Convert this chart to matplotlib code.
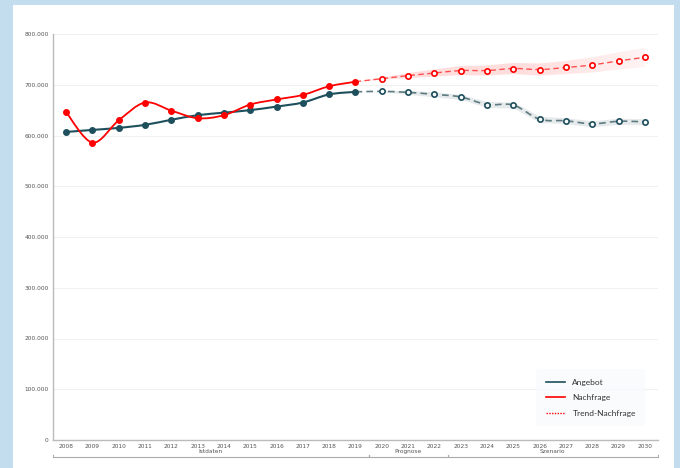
import matplotlib
matplotlib.use("Agg")
import matplotlib.pyplot as plt
import numpy as np
from matplotlib.path import Path
from matplotlib.patches import PathPatch
from matplotlib.lines import Line2D
from matplotlib.ticker import FuncFormatter

years = [str(y) for y in range(2008, 2031)]
angebot_ist = [607, 611, 615, 621, 631, 640, 645, 650, 657, 665, 681, 686]
nachfrage_ist = [646, 586, 630, 665, 649, 634, 640, 661, 671, 680, 697, 706]
# forecast from 2019 to 2030
angebot_prog = [686, 687, 685, 681, 676, 661, 660, 632, 629, 623, 628, 627]
nachfrage_trend = [706, 712, 718, 723, 728, 728, 732, 730, 734, 739, 747, 754]
angebot_band = [0, 1, 4, 5, 5, 6, 6, 6, 6, 6, 6, 6]
nachfrage_band = [0, 2, 5, 7, 9, 10, 11, 12, 13, 15, 17, 19]
groups = ["Istdaten", "Prognose", "Szenario"]
group_sizes = [12, 3, 8]

TEAL = "#1d4f5c"
RED = "#ff0000"
TEAL_D = "#4f6f76"

def smooth_path(xs, ys):
    xs = np.asarray(xs, float)
    ys = np.asarray(ys, float)
    pts = np.column_stack([xs, ys])
    n = len(pts)
    verts = [pts[0]]
    codes = [Path.MOVETO]
    for i in range(n - 1):
        p0 = pts[i - 1] if i > 0 else pts[i]
        p1 = pts[i]
        p2 = pts[i + 1]
        p3 = pts[i + 2] if i + 2 < n else pts[i + 1]
        c1 = p1 + (p2 - p0) / 6.0
        c2 = p2 - (p3 - p1) / 6.0
        verts += [c1, c2, p2]
        codes += [Path.CURVE4] * 3
    return Path(verts, codes)

fig = plt.figure(figsize=(6.8, 4.68), dpi=100, facecolor="#c3ddee")
bg = fig.add_axes([13 / 680, 0, (674 - 13) / 680, (468 - 5) / 468], zorder=-5)
bg.set_facecolor("white")
bg.set_xticks([])
bg.set_yticks([])
for s in bg.spines.values():
    s.set_visible(False)

ax = fig.add_axes([53 / 680, 28 / 468, 605 / 680, 406 / 468])
ax.set_facecolor("white")

x_ist = np.arange(len(angebot_ist))
x_prog = np.arange(11, 11 + len(angebot_prog))
k = 1000

a_hi = [(v + b) * k for v, b in zip(angebot_prog, angebot_band)]
a_lo = [(v - b) * k for v, b in zip(angebot_prog, angebot_band)]
n_hi = [(v + b) * k for v, b in zip(nachfrage_trend, nachfrage_band)]
n_lo = [(v - b) * k for v, b in zip(nachfrage_trend, nachfrage_band)]
ax.fill_between(x_prog, a_lo, a_hi, color="#8fa3a8", alpha=0.22, lw=0, zorder=2)

# red band, fading towards the right
band = ax.fill_between(x_prog, n_lo, n_hi, color="none", lw=0, zorder=2)
grad = np.zeros((2, 256, 4))
grad[..., 0] = 1.0
grad[..., 1] = 0.35
grad[..., 2] = 0.35
alpha = np.concatenate([np.full(150, 0.2), np.linspace(0.2, 0.07, 106)])
grad[..., 3] = alpha
img = ax.imshow(grad, extent=[x_prog[0], x_prog[-1], min(n_lo), max(n_hi)],
                aspect="auto", origin="lower", zorder=2, interpolation="bilinear")
img.set_clip_path(band.get_paths()[0], transform=ax.transData)

ax.add_patch(PathPatch(smooth_path(x_prog, [v * k for v in angebot_prog]), fill=False,
                       edgecolor=TEAL_D, lw=1.2, ls=(0, (4, 2.5)), alpha=0.9, zorder=3))
ax.add_patch(PathPatch(smooth_path(x_prog, [v * k for v in nachfrage_trend]), fill=False,
                       edgecolor="#ff4040", lw=1.0, ls=(0, (4, 2.5)), alpha=0.9, zorder=3))
ax.add_patch(PathPatch(smooth_path(x_ist, [v * k for v in angebot_ist]), fill=False,
                       edgecolor=TEAL, lw=1.5, zorder=4))
ax.add_patch(PathPatch(smooth_path(x_ist, [v * k for v in nachfrage_ist]), fill=False,
                       edgecolor=RED, lw=1.3, zorder=4))

ax.plot(x_ist, [v * k for v in angebot_ist], "o", color=TEAL, ms=4, zorder=5)
ax.plot(x_ist, [v * k for v in nachfrage_ist], "o", color=RED, ms=4, zorder=5)
ax.plot(x_prog[1:], [v * k for v in angebot_prog[1:]], "o", mfc="white", mec=TEAL,
        mew=1.2, ms=3.8, zorder=5)
ax.plot(x_prog[1:], [v * k for v in nachfrage_trend[1:]], "o", mfc="white", mec=RED,
        mew=1.2, ms=3.8, zorder=5)

ax.set_xlim(-0.5, len(years) - 0.5)
ax.set_ylim(0, 800000)
ax.set_yticks(np.arange(0, 800001, 100000))
ax.yaxis.set_major_formatter(FuncFormatter(lambda v, p: f"{v:,.0f}".replace(",", ".")))
ax.set_xticks(range(len(years)))
ax.set_xticklabels(years)
ax.tick_params(axis="both", labelsize=4.2, colors="#555555", length=0, pad=3)
ax.grid(axis="y", color="#f0f0f0", lw=0.8)
ax.set_axisbelow(True)
for s in ["top", "right"]:
    ax.spines[s].set_visible(False)
for s in ["left", "bottom"]:
    ax.spines[s].set_color("#bbbbbb")
    ax.spines[s].set_linewidth(1.0)

# group labels with brackets
trans = ax.get_xaxis_transform()
start = -0.5
for name, size in zip(groups, group_sizes):
    end = start + size
    ax.plot([start, start, end, end], [-0.036, -0.041, -0.041, -0.036], color="#aaaaaa",
            lw=0.8, transform=trans, clip_on=False)
    ax.text((start + end) / 2, -0.0275, name, transform=trans, ha="center", va="center",
            fontsize=4.2, color="#555555")
    start = end

# legend
leg = ax.legend(handles=[Line2D([], [], color=TEAL, lw=1.2),
                         Line2D([], [], color=RED, lw=1.2),
                         Line2D([], [], color=RED, lw=1.0, ls=(0, (1, 1)))],
                labels=["Angebot", "Nachfrage", "Trend-Nachfrage"],
                loc="lower right", bbox_to_anchor=(0.986, 0.024), frameon=True,
                handlelength=2.3, handletextpad=0.9, labelspacing=1.0,
                borderpad=1.15, prop={"family": "Lato", "size": 6})
leg.get_frame().set_facecolor("#f8fafd")
leg.get_frame().set_edgecolor("none")
leg.get_frame().set_boxstyle("round", pad=0, rounding_size=0.3)
for t in leg.get_texts():
    t.set_color("#333333")

fig.savefig("out.png", dpi=100, facecolor=fig.get_facecolor())
